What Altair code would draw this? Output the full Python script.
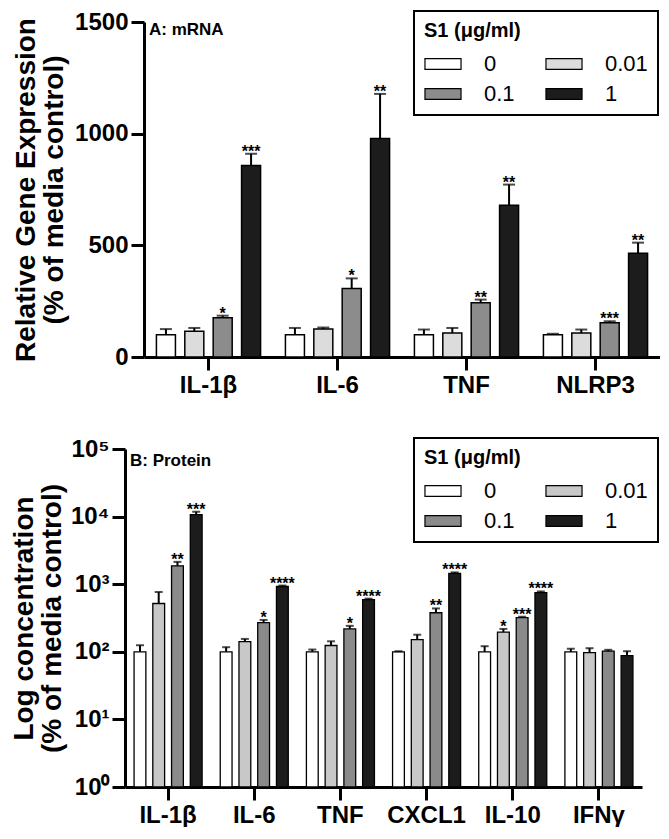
import altair as alt
import pandas as pd

FONT = "Liberation Sans"

doses = ["0", "0.01", "0.1", "1"]

# ---- Panel A: mRNA (mean and top of SEM bar, % of media control)
mrna_genes = ["IL-1β", "IL-6", "TNF", "NLRP3"]
mrna_mean_0 = [100, 100, 100, 100]
mrna_mean_001 = [115, 125, 108, 107]
mrna_mean_01 = [176, 307, 243, 153]
mrna_mean_1 = [858, 978, 680, 465]
mrna_top_0 = [125, 130, 123, 104]
mrna_top_001 = [130, 132, 130, 123]
mrna_top_01 = [185, 352, 257, 160]
mrna_top_1 = [910, 1178, 772, 512]
mrna_star_0 = ["", "", "", ""]
mrna_star_001 = ["", "", "", ""]
mrna_star_01 = ["*", "*", "**", "***"]
mrna_star_1 = ["***", "**", "**", "**"]

# ---- Panel B: Protein
prot_genes = ["IL-1β", "IL-6", "TNF", "CXCL1", "IL-10", "IFNγ"]
prot_mean_0 = [100, 100, 100, 100, 100, 100]
prot_mean_001 = [518, 141, 124, 151, 196, 97]
prot_mean_01 = [1870, 270, 218, 378, 320, 102]
prot_mean_1 = [10700, 925, 592, 1445, 748, 88]
prot_top_0 = [125, 117, 108, 102, 121, 111]
prot_top_001 = [766, 155, 143, 179, 218, 113]
prot_top_01 = [2140, 296, 242, 438, 330, 107]
prot_top_1 = [11800, 955, 611, 1495, 781, 102]
prot_star_0 = ["", "", "", "", "", ""]
prot_star_001 = ["", "", "", "", "*", ""]
prot_star_01 = ["**", "*", "*", "**", "***", ""]
prot_star_1 = ["***", "****", "****", "****", "****", ""]

top_colors = ["#ffffff", "#dcdcdc", "#8c8c8c", "#1c1c1c"]
bot_colors = ["#ffffff", "#c8c8c8", "#8a8a8a", "#1c1c1c"]


def build_df(genes, means, tops, stars, base):
    rows = []
    for gi, g in enumerate(genes):
        for di, d in enumerate(doses):
            rows.append({"gene": g, "dose": d, "mean": means[di][gi],
                         "top": tops[di][gi], "star": stars[di][gi],
                         "base": base})
    return pd.DataFrame(rows)


mrna_df = build_df(mrna_genes,
                   [mrna_mean_0, mrna_mean_001, mrna_mean_01, mrna_mean_1],
                   [mrna_top_0, mrna_top_001, mrna_top_01, mrna_top_1],
                   [mrna_star_0, mrna_star_001, mrna_star_01, mrna_star_1], 0)
prot_df = build_df(prot_genes,
                   [prot_mean_0, prot_mean_001, prot_mean_01, prot_mean_1],
                   [prot_top_0, prot_top_001, prot_top_01, prot_top_1],
                   [prot_star_0, prot_star_001, prot_star_01, prot_star_1], 1)


def legend(lx):
    return alt.Legend(
        title="S1 (μg/ml)", orient="none", legendX=lx, legendY=-11,
        columns=2, direction="horizontal",
        symbolType="M-1,-0.3H1V0.3H-1Z", symbolSize=1300,
        symbolStrokeColor="black", symbolStrokeWidth=1.2,
        labelFont=FONT, labelFontSize=22, labelColor="black", labelOffset=22,
        titleFont=FONT, titleFontSize=20, titleFontWeight="bold", titleColor="black",
        titlePadding=4, padding=10, columnPadding=28, rowPadding=0,
        strokeColor="black", fillColor="white",
    )


def panel(df, genes, colors, yscale, yaxis, ytitle, width, height,
          xrange, pad_in, off_in, bar_sw, cap, lx, tag, tag_x, tag_y):
    x = alt.X("gene:N", sort=genes, title=None,
              scale=alt.Scale(range=xrange, paddingInner=pad_in,
                              paddingOuter=pad_in / 2),
              axis=alt.Axis(labelAngle=0, labelFontSize=24, labelPadding=3))
    xo = alt.XOffset("dose:N", sort=doses,
                     scale=alt.Scale(paddingInner=off_in, paddingOuter=off_in / 2))
    base = alt.Chart(df).encode(x=x, xOffset=xo)
    bars = base.mark_bar(stroke="black", strokeWidth=bar_sw).encode(
        y=alt.Y("mean:Q", scale=yscale, axis=yaxis, title=ytitle),
        y2="base:Q",
        fill=alt.Fill("dose:N", sort=doses,
                      scale=alt.Scale(domain=doses, range=colors),
                      legend=legend(lx)),
    )
    rules = base.mark_rule(color="black", strokeWidth=2).encode(
        y="mean:Q", y2="top:Q")
    caps = base.mark_tick(color="black", thickness=2, size=cap,
                          orient="horizontal").encode(y="top:Q")
    stars = base.mark_text(font=FONT, fontWeight="bold", fontSize=16,
                           baseline="alphabetic", dy=3, color="black").encode(
        y="top:Q", text="star:N")
    lab = alt.Chart(pd.DataFrame({"t": [tag]})).mark_text(
        font=FONT, fontWeight="bold", fontSize=17, align="left",
        baseline="middle", color="black").encode(
        text="t:N", x=alt.value(tag_x), y=alt.value(tag_y))
    return alt.layer(bars, rules, caps, stars, lab).properties(
        width=width, height=height)


SHIFT = 19  # panel A's y axis sits further right than panel B's

top_axis = alt.Axis(values=[0, 500, 1000, 1500], format="d", titlePadding=6,
                    titleLineHeight=28, labelPadding=3, offset=-SHIFT)
top = panel(mrna_df, mrna_genes, top_colors,
            alt.Scale(domain=[0, 1500], nice=False), top_axis,
            ["Relative Gene Expression", "(% of media control)"],
            SHIFT + 516, 335, [SHIFT, SHIFT + 516], 0.12, 0.33, 1.5, 12,
            289, "A: mRNA", SHIFT + 5, 8)

sup = "['⁰','¹','²','³','⁴','⁵'][round(log(datum.value)/LN10)]"
bot_axis = alt.Axis(values=[1, 10, 100, 1000, 10000, 100000],
                    labelExpr="'10' + " + sup, titlePadding=4,
                    titleLineHeight=28, labelPadding=3)
bottom = panel(prot_df, prot_genes, bot_colors,
               alt.Scale(type="log", domain=[1, 100000], nice=False), bot_axis,
               ["Log concentration", "(% of media control)"],
               517, 338, [0, 517], 0.13, 0.37, 1.3, 8, 289, "B: Protein", 5, 12)

chart = alt.vconcat(top, bottom, spacing=40).resolve_scale(
    fill="independent", x="independent", y="independent", xOffset="independent"
).properties(padding={"left": 2, "top": 2, "right": 0, "bottom": 0}
).configure_view(stroke=None).configure_axis(
    labelFont=FONT, labelFontWeight="bold", labelFontSize=24, labelColor="black",
    titleFont=FONT, titleFontWeight="bold", titleFontSize=28, titleColor="black",
    domainColor="black", domainWidth=3, tickColor="black", tickWidth=3,
    tickSize=13, grid=False,
).configure_legend(strokeWidth=2)

chart.save("out.html", embed_options={"renderer": "svg", "actions": False})
